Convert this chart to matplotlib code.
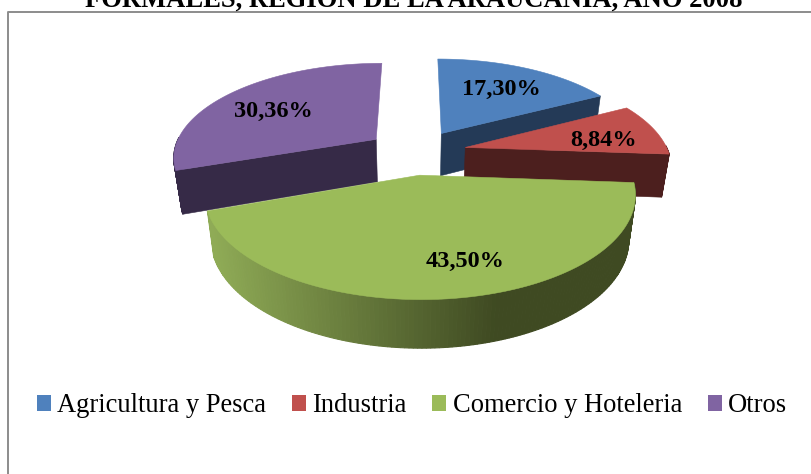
import numpy as np
import matplotlib
matplotlib.use("Agg")
import matplotlib.pyplot as plt
from matplotlib.patches import Patch, Polygon
from matplotlib.colors import to_rgb

categories = ['Agricultura y Pesca', 'Industria', 'Comercio y Hoteleria', 'Otros']
values = [17.30, 8.84, 43.50, 30.36]
title = 'FORMALES, REGION DE LA ARAUCANIA, AÑO 2008'

top_colors = ['#4f81bd', '#c0504d', '#9bbb59', '#8064a2']
side_colors = ['#243a57', '#4c1f1e', '#3f4a22', '#362a47']
cut_edge = ['end', 'end', None, 'start']   # which cut face can be seen
label_pos = [0.62, 0.72, 0.55, 0.62]
label_shift = [(4, -2), (1, 6), (27, 25), (-11, 2)]
wedge_shift = [2, 3, -2, 0]

W, H = 811, 474
cx, cy = 415, 152    # pie centre on the canvas
Rx, Ry = 203, 93.4
k = 0.175            # perspective strength
explode = 0.24
depth = 43
shrink = 0.97        # lower rim is a bit narrower


def project(u, v):
    s = 1 / (1 + k * v)
    return cx + Rx * u * s, cy - Ry * v * s, s


def drop(x, y, s):
    return cx + shrink * (x - cx), y + depth * s ** 0.5


def blend(c1, c2, t):
    c1, c2 = np.array(to_rgb(c1)), np.array(to_rgb(c2))
    return c1 + (c2 - c1) * t


fig = plt.figure(figsize=(W / 100, H / 100), dpi=100)
ax = fig.add_axes([0, 0, 1, 1])
ax.set_xlim(0, W)
ax.set_ylim(H, 0)
ax.axis('off')

# border and title, both cut by the page like the original
ax.plot([7.5, 7.5, W + 5], [H + 5, 12, 12], color='#8c8c8c', lw=1.4)
ax.text(414, 7, title, family='Liberation Serif', weight='bold', fontsize=19.2,
        ha='center', va='baseline', color='black')

shares = np.array(values) / sum(values) * 2 * np.pi
starts = np.concatenate([[0], np.cumsum(shares)[:-1]])

for i in [3, 0, 1, 2]:
    a0, a1 = starts[i], starts[i] + shares[i]
    mid = (a0 + a1) / 2
    ox, oy = explode * np.sin(mid), explode * np.cos(mid)
    ang = np.linspace(a0, a1, 160)
    top = np.array([project(ox + np.sin(a), oy + np.cos(a)) for a in ang])
    top[:, 0] += wedge_shift[i]
    apex = np.array(project(ox, oy))
    apex[0] += wedge_shift[i]
    bot = np.array([drop(*p) for p in top])

    # outer rim, only the part turned to the viewer
    for j in range(len(ang) - 1):
        if np.cos(ang[j]) > 0.02:
            continue
        if i == 2:
            t = np.clip((bot[j][0] - 218) / (495 - 218), 0, 1)
            col = blend('#8fab56', side_colors[2], t)
        else:
            col = side_colors[i]
        quad = [top[j][:2], top[j + 1][:2], bot[j + 1], bot[j]]
        ax.add_patch(Polygon(quad, closed=True, fc=col, ec=col, lw=0.8))

    # cut face
    if cut_edge[i]:
        p = top[-1] if cut_edge[i] == 'end' else top[0]
        quad = [apex[:2], p[:2], drop(*p), drop(*apex)]
        ax.add_patch(Polygon(quad, closed=True, fc=side_colors[i], ec=side_colors[i], lw=0.4))

    # top face
    pts = np.vstack([apex[:2], top[:, :2]])
    ax.add_patch(Polygon(pts, closed=True, fc=top_colors[i], ec=top_colors[i], lw=0.4))

    lx, ly, _ = project(ox + label_pos[i] * np.sin(mid), oy + label_pos[i] * np.cos(mid))
    ax.text(lx + wedge_shift[i] + label_shift[i][0], ly + label_shift[i][1],
            f'{values[i]:.2f}'.replace('.', ',') + '%', family='Liberation Serif',
            weight='bold', fontsize=17.5, ha='center', va='center', color='black', zorder=5)

handles = [Patch(fc=c, ec='none') for c in top_colors]
fig.legend(handles, categories, loc='center', bbox_to_anchor=(412 / W, 1 - 406 / H), ncol=4,
           frameon=False, prop={'family': 'Liberation Serif', 'size': 19.1},
           handlelength=0.53, handleheight=0.53, handletextpad=0.23, columnspacing=0.98,
           borderpad=0, borderaxespad=0)

fig.savefig('out.png', dpi=100)
